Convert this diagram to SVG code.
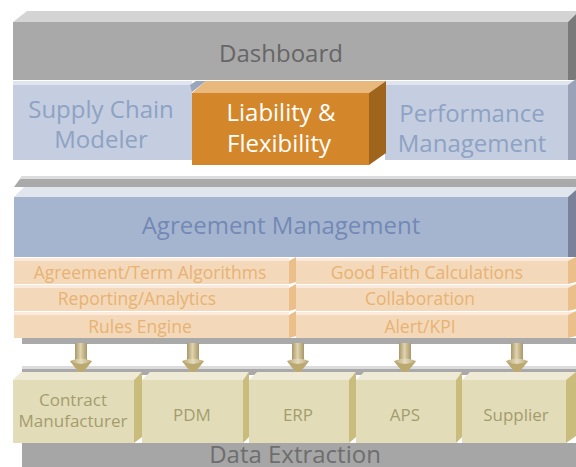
<svg xmlns="http://www.w3.org/2000/svg" width="576" height="467" viewBox="0 0 576 467">
<defs>
<style>
text{font-family:"Open Sans","Noto Sans",sans-serif;text-anchor:middle}
.big{font-size:24px}
.sub{font-size:17.5px;fill:#e8b274}
.dat{font-size:17px;fill:#a39c6e}
.rowF{fill:#f3d9b9}
.rowT{fill:#fbeadb}
.rowS{fill:#ebbf8a}
.datF{fill:#e3dcb8}
.datT{fill:#eeead6}
.datS{fill:#c9bc7d}
</style>
<linearGradient id="shaft" x1="0" y1="0" x2="1" y2="0">
<stop offset="0" stop-color="#a8976a"/>
<stop offset="0.45" stop-color="#e0d3ad"/>
<stop offset="1" stop-color="#a8976a"/>
</linearGradient>
<linearGradient id="head" x1="0" y1="0" x2="1" y2="0">
<stop offset="0" stop-color="#b7a77a"/>
<stop offset="0.5" stop-color="#e6dbbd"/>
<stop offset="1" stop-color="#b7a77a"/>
</linearGradient>
<g id="arrow">
<rect x="-6" y="343" width="12" height="19" fill="url(#shaft)"/>
<path d="M-11,361 Q0,356 11,361 L0,375 Z" fill="url(#head)"/>
<path d="M-11,361 Q0,367 11,361 L0,375 Z" fill="#bba96f"/>
</g>
</defs>

<g id="dashboard">
<polygon points="13,22 27,11 576,11 576,14 568,22" fill="#d4d4d4"/>
<rect x="13" y="22" width="555" height="58" fill="#a9a9a9"/>
<polygon points="568,22 576,14 576,80 568,80" fill="#7a7a7a"/>
<text class="big" x="281" y="62" fill="#666666">Dashboard</text>
</g>

<g id="supply-chain-modeler">
<rect x="13" y="81" width="179" height="4" fill="#dfe4ee"/>
<rect x="13" y="85" width="179" height="75" fill="#c4cee0"/>
<polygon points="190,85 196,81 206,81 192,92" fill="#9aa6bc"/>
<text class="big" x="101" y="118" fill="#8ea2c3">Supply Chain</text>
<text class="big" x="101" y="148" fill="#8ea2c3">Modeler</text>
</g>

<g id="performance-management">
<rect x="385" y="81" width="191" height="4" fill="#dfe4ee"/>
<rect x="385" y="85" width="183" height="75" fill="#c4cee0"/>
<polygon points="568,85 576,79 576,160 568,160" fill="#9aa2b8"/>
<text class="big" x="472" y="122" fill="#8ea2c3">Performance</text>
<text class="big" x="472" y="152" fill="#8ea2c3">Management</text>
</g>

<g id="liability-flexibility">
<polygon points="192,93 206,81 386,81 369,93" fill="#e8b87c"/>
<rect x="192" y="93" width="177" height="72" fill="#d4872a"/>
<polygon points="369,93 386,81 386,153 369,165" fill="#a0651d"/>
<text class="big" x="281" y="121" fill="#ffffff">Liability &amp;</text>
<text class="big" x="279" y="152" fill="#ffffff">Flexibility</text>
</g>

<g id="agreement-management">
<polygon points="14,187 22,176 576,176 576,187" fill="#a9a9a9"/>
<polygon points="18,181 22,176 576,176 576,179 21,179" fill="#dcdcdc"/>
<polygon points="14,197 24,187 576,187 576,190 568,197" fill="#e0e5ee"/>
<rect x="14" y="197" width="554" height="60" fill="#a6b5cf"/>
<polygon points="568,197 576,190 576,257 568,257" fill="#7b8199"/>
<text class="big" x="281" y="234" fill="#7289b5">Agreement Management</text>
</g>

<g id="agreement-term-algorithms">
<rect class="rowT" x="14" y="258" width="275" height="3"/>
<rect class="rowF" x="14" y="261" width="275" height="23"/>
<polygon class="rowS" points="289,261 296,257 296,282 289,284"/>
<text class="sub" x="150" y="279">Agreement/Term Algorithms</text>
</g>
<g id="good-faith-calculations">
<rect class="rowT" x="296" y="258" width="280" height="3"/>
<rect class="rowF" x="296" y="261" width="272" height="23"/>
<polygon class="rowS" points="568,261 576,257 576,282 568,284"/>
<text class="sub" x="427" y="279">Good Faith Calculations</text>
</g>
<g id="reporting-analytics">
<rect class="rowT" x="14" y="285" width="275" height="3"/>
<rect class="rowF" x="14" y="288" width="275" height="23"/>
<polygon class="rowS" points="289,288 296,284 296,309 289,311"/>
<text class="sub" x="137" y="305">Reporting/Analytics</text>
</g>
<g id="collaboration">
<rect class="rowT" x="296" y="285" width="280" height="3"/>
<rect class="rowF" x="296" y="288" width="272" height="23"/>
<polygon class="rowS" points="568,288 576,284 576,309 568,311"/>
<text class="sub" x="420" y="305">Collaboration</text>
</g>
<g id="rules-engine">
<rect class="rowT" x="14" y="312" width="275" height="3"/>
<rect class="rowF" x="14" y="315" width="275" height="23"/>
<polygon class="rowS" points="289,315 296,311 296,336 289,338"/>
<text class="sub" x="140" y="333">Rules Engine</text>
</g>
<g id="alert-kpi">
<rect class="rowT" x="296" y="312" width="280" height="3"/>
<rect class="rowF" x="296" y="315" width="272" height="23"/>
<polygon class="rowS" points="568,315 576,311 576,336 568,338"/>
<text class="sub" x="420" y="333">Alert/KPI</text>
</g>
<rect x="22" y="338" width="554" height="6" fill="#a9a9a9"/>

<g id="data-extraction">
<rect x="22" y="366" width="554" height="9" fill="#a9a9a9"/>
<rect x="22" y="366" width="554" height="3" fill="#dcdcdc"/>
<rect x="22" y="443" width="554" height="24" fill="#a6a6a6"/>
<text class="big" x="295" y="463" fill="#6e6e6e">Data Extraction</text>
</g>

<g id="connectors">
<use href="#arrow" x="81"/>
<use href="#arrow" x="193"/>
<use href="#arrow" x="298"/>
<use href="#arrow" x="405"/>
<use href="#arrow" x="517"/>
</g>

<g id="contract-manufacturer">
<polygon class="datT" points="13,380 21,372 142,372 134,380"/>
<rect class="datF" x="13" y="380" width="121" height="63"/>
<polygon class="datS" points="134,380 142,372 142,437 134,443"/>
<text class="dat" x="73" y="406">Contract</text>
<text class="dat" x="73" y="427">Manufacturer</text>
</g>
<g id="pdm">
<polygon class="datT" points="142,380 150,372 249,372 243,380"/>
<rect class="datF" x="142" y="380" width="101" height="63"/>
<polygon class="datS" points="243,380 249,372 249,437 243,443"/>
<text class="dat" x="192" y="421">PDM</text>
</g>
<g id="erp">
<polygon class="datT" points="249,380 257,372 356,372 349,380"/>
<rect class="datF" x="249" y="380" width="100" height="63"/>
<polygon class="datS" points="349,380 356,372 356,437 349,443"/>
<text class="dat" x="298" y="421">ERP</text>
</g>
<g id="aps">
<polygon class="datT" points="356,380 364,372 462,372 456,380"/>
<rect class="datF" x="356" y="380" width="100" height="63"/>
<polygon class="datS" points="456,380 462,372 462,437 456,443"/>
<text class="dat" x="405" y="421">APS</text>
</g>
<g id="supplier">
<polygon class="datT" points="462,380 470,372 576,372 576,374 566,380"/>
<rect class="datF" x="462" y="380" width="104" height="63"/>
<polygon class="datS" points="566,380 576,372 576,436 566,443"/>
<text class="dat" x="516" y="421">Supplier</text>
</g>
</svg>
